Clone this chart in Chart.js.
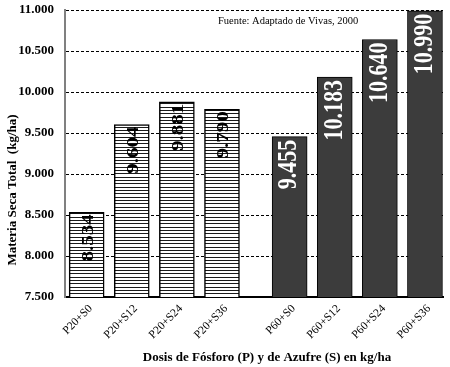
<!DOCTYPE html>
<html><head><meta charset="utf-8">
<script src="https://cdn.jsdelivr.net/npm/chart.js@4/dist/chart.umd.min.js"></script>
<style>html,body{margin:0;padding:0;background:#fff;}#wrap{width:450px;height:367px;position:relative;}</style>
</head><body><div id="wrap"><canvas id="c" width="450" height="367"></canvas></div>
<script>
const categories = ['P20+S0','P20+S12','P20+S24','P20+S36','P60+S0','P60+S12','P60+S24','P60+S36'];
const groups = [0,0,0,0,1,1,1,1];
const values = [8.534, 9.604, 9.881, 9.790, 9.455, 10.183, 10.640, 10.990];
const valueLabels = ['8.534','9.604','9.881','9.790','9.455','10.183','10.640','10.990'];
const yTicks = [7.5, 8, 8.5, 9, 9.5, 10, 10.5, 11];
const yTitle = 'Materia Seca Total  (kg/ha)';
const xTitle = 'Dosis de Fósforo (P) y de Azufre (S) en kg/ha';
const sourceNote = 'Fuente: Adaptado de Vivas, 2000';

const SERIF = '"Liberation Serif", "Times New Roman", serif';
const xPos = categories.map((_, i) => i + 1 + groups[i] * 0.5);

// striped pattern for P20 bars
const pc = document.createElement('canvas');
pc.width = 4; pc.height = 10;
const pctx = pc.getContext('2d');
pctx.fillStyle = '#fff'; pctx.fillRect(0, 0, 4, 10);
pctx.fillStyle = '#1a1a1a';
[0, 3, 7].forEach(r => pctx.fillRect(0, r, 4, 1));
const ctx = document.getElementById('c').getContext('2d');
const stripes = ctx.createPattern(pc, 'repeat');

function pointsFor(g) {
  const out = [];
  categories.forEach((c, i) => { if (groups[i] === g) out.push({x: xPos[i], y: values[i], idx: i}); });
  return out;
}

const labelPlugin = {
  id: 'valueLabels',
  afterDatasetsDraw(chart) {
    const c = chart.ctx;
    chart.data.datasets.forEach((ds, di) => {
      const meta = chart.getDatasetMeta(di);
      meta.data.forEach((el, j) => {
        const idx = ds.data[j].idx;
        const dark = groups[idx] === 1;
        c.save();
        c.translate(el.x + (dark ? 0 : 2), el.y + (dark ? 3 : 2));
        c.rotate(-Math.PI / 2);
        c.scale(1, dark ? 1.2 : 0.8);
        c.font = 'bold ' + (dark ? 22 : 21) + 'px ' + SERIF;
        c.fillStyle = dark ? '#fff' : '#000';
        c.textAlign = 'right';
        c.textBaseline = 'middle';
        c.fillText(valueLabels[idx], 0, 0);
        c.restore();
      });
    });
  },
  afterDraw(chart) {
    const c = chart.ctx;
    c.save();
    c.fillStyle = '#000';
    c.font = 'bold 13px ' + SERIF;
    c.textAlign = 'center';
    c.textBaseline = 'middle';
    c.fillText(xTitle, 267, 358);
    c.translate(13, 190);
    c.rotate(-Math.PI / 2);
    c.fillText(yTitle, 0, 0);
    c.restore();
    c.save();
    c.fillStyle = '#000';
    c.font = '10.5px ' + SERIF;
    c.textAlign = 'left';
    c.textBaseline = 'middle';
    c.fillText(sourceNote, 218, 21);
    c.restore();
  }
};

new Chart(ctx, {
  type: 'bar',
  data: {
    datasets: [
      { data: pointsFor(0), backgroundColor: stripes, borderColor: '#000', borderWidth: 1.5, barThickness: 35, grouped: false },
      { data: pointsFor(1), backgroundColor: '#3c3c3c', borderColor: '#000', borderWidth: 1, barThickness: 35, grouped: false }
    ]
  },
  options: {
    responsive: false,
    devicePixelRatio: 1,
    animation: false,
    layout: { padding: { left: 0, right: 7, top: 10, bottom: 0 } },
    plugins: { legend: { display: false }, tooltip: { enabled: false } },
    scales: {
      x: {
        type: 'linear',
        offset: false,
        min: 0.52, max: 8.9,
        afterFit(s) { s.height = 70; s.paddingLeft = 0; s.paddingRight = 0; },
        afterBuildTicks(s) { s.ticks = xPos.map(v => ({ value: v })); },
        grid: { display: false, drawTicks: false },
        border: { display: true, color: '#000', width: 2 },
        ticks: {
          autoSkip: false, minRotation: 45, maxRotation: 45, padding: 5, labelOffset: 4,
          color: '#000', font: { family: SERIF, size: 11.5 },
          callback(v) { const i = xPos.indexOf(v); return i >= 0 ? categories[i] : ''; }
        }
      },
      y: {
        min: 7.5, max: 11,
        afterFit(s) { s.width = 65; s.paddingTop = 0; s.paddingBottom = 0; },
        afterBuildTicks(s) { s.ticks = yTicks.map(v => ({ value: v })); },
        grid: { color: '#000', lineWidth: 1, drawTicks: false },
        border: { display: true, color: '#808080', width: 2, dash: [3, 2] },
        ticks: {
          padding: 11, color: '#000', font: { family: SERIF, size: 13, weight: 'bold' },
          callback(v) { return Number(v).toFixed(3); }
        }
      }
    }
  },
  plugins: [labelPlugin]
});
</script></body></html>
